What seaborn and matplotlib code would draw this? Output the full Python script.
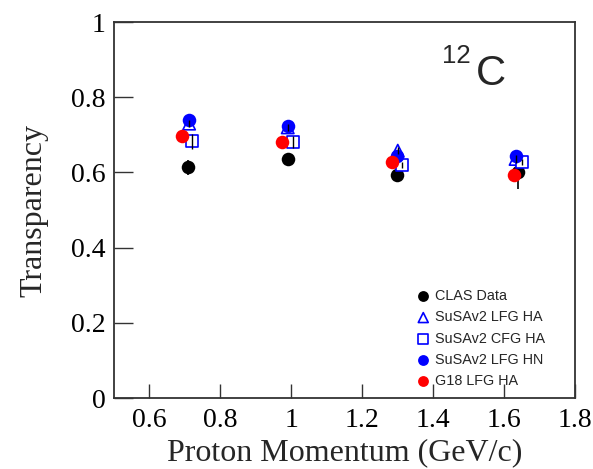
import matplotlib
matplotlib.use("Agg")
import matplotlib.pyplot as plt
import seaborn as sns
import pandas as pd

# Data
clas_p = [0.709, 0.990, 1.298, 1.640]
clas_t = [0.614, 0.636, 0.593, 0.600]
clas_err = [0.020, 0.016, 0.010, 0.045]

lfg_ha_p = [0.712, 0.990, 1.300, 1.632]
lfg_ha_t = [0.730, 0.720, 0.658, 0.636]
lfg_ha_err = [0.010, 0.010, 0.010, 0.010]

cfg_ha_p = [0.721, 1.004, 1.312, 1.649]
cfg_ha_t = [0.683, 0.681, 0.620, 0.628]
cfg_ha_err = [0.020, 0.015, 0.008, 0.008]

lfg_hn_p = [0.712, 0.990, 1.298, 1.632]
lfg_hn_t = [0.740, 0.724, 0.645, 0.645]

g18_p = [0.693, 0.973, 1.284, 1.627]
g18_t = [0.698, 0.681, 0.628, 0.593]

labels = ["CLAS Data", "SuSAv2 LFG HA", "SuSAv2 CFG HA", "SuSAv2 LFG HN", "G18 LFG HA"]
xticks = [0.6, 0.8, 1.0, 1.2, 1.4, 1.6, 1.8]
xticklabels = ["0.6", "0.8", "1", "1.2", "1.4", "1.6", "1.8"]
yticks = [0, 0.2, 0.4, 0.6, 0.8, 1.0]
yticklabels = ["0", "0.2", "0.4", "0.6", "0.8", "1"]

sns.set_style("ticks")
plt.rcParams["font.family"] = ["Liberation Serif", "DejaVu Serif"]

fig = plt.figure(figsize=(5.93, 4.69), dpi=100)
ax = fig.add_axes([0.192, 0.151, 0.778, 0.802])

# error bars
ax.errorbar(clas_p, clas_t, yerr=clas_err, fmt="none", ecolor="black", elinewidth=1.2, capsize=0, zorder=2)
ax.errorbar(lfg_ha_p, lfg_ha_t, yerr=lfg_ha_err, fmt="none", ecolor="black", elinewidth=1.0, capsize=0, zorder=4)
ax.errorbar(cfg_ha_p, cfg_ha_t, yerr=cfg_ha_err, fmt="none", ecolor="black", elinewidth=1.0, capsize=0, zorder=4)

df_clas = pd.DataFrame({"p": clas_p, "t": clas_t})
df_ha = pd.DataFrame({"p": lfg_ha_p, "t": lfg_ha_t})
df_cfg = pd.DataFrame({"p": cfg_ha_p, "t": cfg_ha_t})
df_hn = pd.DataFrame({"p": lfg_hn_p, "t": lfg_hn_t})
df_g18 = pd.DataFrame({"p": g18_p, "t": g18_t})

sns.scatterplot(data=df_clas, x="p", y="t", ax=ax, marker="o", s=95, color="black",
                edgecolor="black", linewidth=0, label=labels[0], zorder=3)
sns.scatterplot(data=df_ha, x="p", y="t", ax=ax, marker="^", s=80, facecolors="none",
                edgecolor="blue", linewidth=1.2, label=labels[1], zorder=3)
sns.scatterplot(data=df_cfg, x="p", y="t", ax=ax, marker="s", s=80, facecolors="white",
                edgecolor="blue", linewidth=1.2, label=labels[2], zorder=3)
sns.scatterplot(data=df_hn, x="p", y="t", ax=ax, marker="o", s=95, color="blue",
                edgecolor="blue", linewidth=0, label=labels[3], zorder=3)
sns.scatterplot(data=df_g18, x="p", y="t", ax=ax, marker="o", s=95, color="red",
                edgecolor="red", linewidth=0, label=labels[4], zorder=5)

ax.set_xlim(0.5, 1.8)
ax.set_ylim(0, 1.0)
ax.set_xticks(xticks)
ax.set_xticklabels(xticklabels)
ax.set_yticks(yticks)
ax.set_yticklabels(yticklabels)
ax.tick_params(axis="both", direction="in", width=1.0, labelsize=20,
               top=False, right=False, color="#333333", labelcolor="black")
ax.tick_params(axis="x", length=10, pad=7)
ax.tick_params(axis="y", length=14, pad=6)
for s in ax.spines.values():
    s.set_visible(True)
    s.set_linewidth(1.3)
    s.set_color("#333333")

ax.set_xlabel("Proton Momentum (GeV/c)", fontsize=23, labelpad=4)
ax.set_ylabel("Transparency", fontsize=23, labelpad=16)

# nucleus label
ax.text(0.712, 0.891, "12", transform=ax.transAxes, fontsize=18.5,
        family=["Liberation Sans", "DejaVu Sans"], ha="left", va="baseline")
ax.text(0.785, 0.832, "C", transform=ax.transAxes, fontsize=30,
        family=["Liberation Sans", "DejaVu Sans"], ha="left", va="baseline")

leg = ax.legend(loc="lower left", bbox_to_anchor=(0.655, 0.027), frameon=False,
                prop={"family": ["Liberation Sans", "DejaVu Sans"], "size": 10.4},
                handlelength=1.0, handletextpad=0.3, labelspacing=0.5, markerscale=0.8,
                borderaxespad=0, borderpad=0)

fig.savefig("out.png", dpi=100)
